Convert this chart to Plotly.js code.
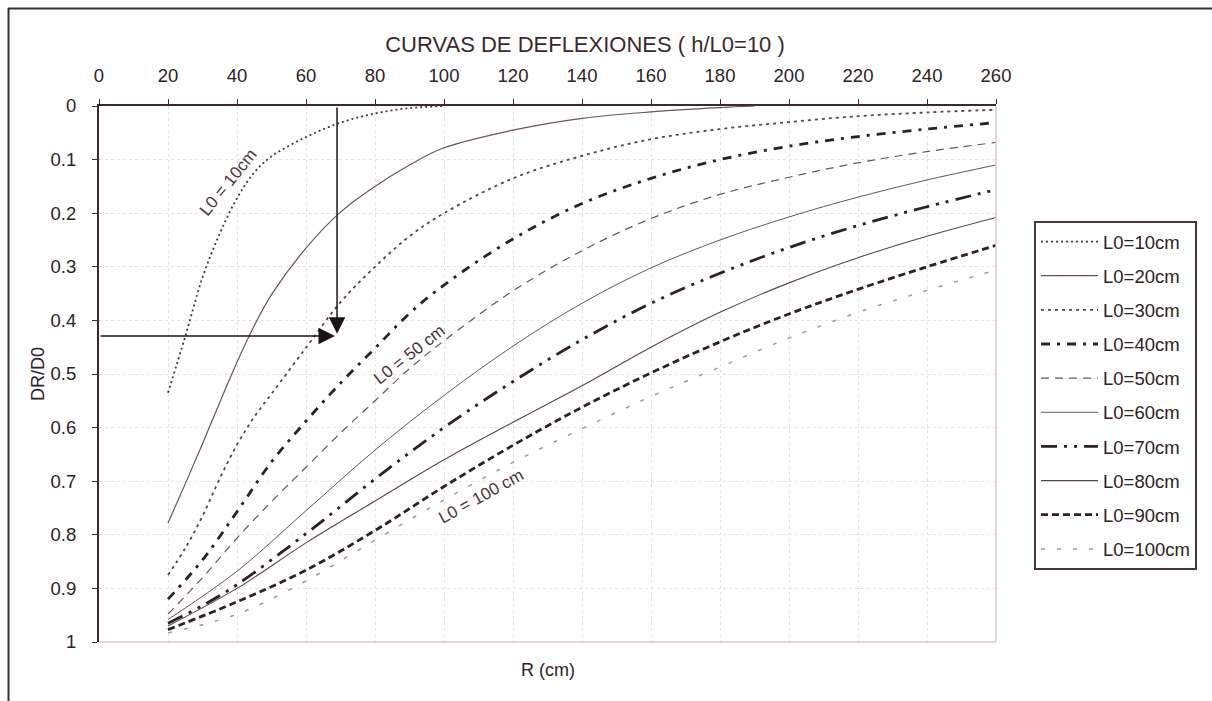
<!DOCTYPE html>
<html>
<head>
<meta charset="utf-8">
<script src="https://cdn.plot.ly/plotly-3.0.1.min.js"></script>
<style>
  html, body { margin: 0; padding: 0; background: #ffffff; }
  #chart { width: 1212px; height: 701px; }
</style>
</head>
<body>
<div id="chart"></div>
<script>
// ---- data ----
const seriesNames = ['L0=10cm','L0=20cm','L0=30cm','L0=40cm','L0=50cm','L0=60cm','L0=70cm','L0=80cm','L0=90cm','L0=100cm'];

const R_L10 = [20, 25, 30, 35, 40, 45, 50, 60, 70, 80, 90, 100];
const DR_L10 = [0.535, 0.43, 0.32, 0.238, 0.172, 0.124, 0.094, 0.058, 0.031, 0.014, 0.004, 0.0];

const R_L20 = [20, 25, 30, 35, 40, 45, 50, 60, 70, 80, 90, 100, 120, 140, 160, 180, 190];
const DR_L20 = [0.778, 0.705, 0.63, 0.553, 0.478, 0.41, 0.352, 0.265, 0.198, 0.15, 0.11, 0.078, 0.045, 0.023, 0.011, 0.003, 0.0];

const R_L30 = [20, 25, 30, 35, 40, 45, 50, 60, 70, 80, 90, 100, 120, 140, 160, 180, 200, 220, 240, 260];
const DR_L30 = [0.875, 0.825, 0.765, 0.695, 0.632, 0.58, 0.537, 0.451, 0.366, 0.3, 0.243, 0.2, 0.135, 0.093, 0.062, 0.043, 0.03, 0.019, 0.012, 0.007];

const R_L40 = [20, 30, 40, 50, 60, 70, 80, 90, 100, 120, 140, 160, 180, 200, 220, 240, 260];
const DR_L40 = [0.92, 0.847, 0.757, 0.664, 0.588, 0.517, 0.452, 0.387, 0.334, 0.248, 0.182, 0.135, 0.1, 0.075, 0.057, 0.043, 0.031];

const R_L50 = [20, 30, 40, 50, 60, 70, 80, 90, 100, 120, 140, 160, 180, 200, 220, 240, 260];
const DR_L50 = [0.948, 0.88, 0.806, 0.738, 0.674, 0.61, 0.55, 0.49, 0.438, 0.345, 0.27, 0.21, 0.165, 0.133, 0.106, 0.085, 0.068];

const R_L60 = [20, 40, 60, 80, 100, 120, 140, 160, 180, 200, 220, 240, 260];
const DR_L60 = [0.958, 0.868, 0.755, 0.642, 0.54, 0.448, 0.368, 0.302, 0.25, 0.207, 0.17, 0.138, 0.11];

const R_L70 = [20, 30, 40, 60, 80, 100, 120, 140, 160, 180, 200, 220, 240, 260];
const DR_L70 = [0.965, 0.932, 0.893, 0.798, 0.696, 0.6, 0.514, 0.436, 0.368, 0.312, 0.264, 0.223, 0.188, 0.156];

const R_L80 = [20, 40, 60, 80, 100, 120, 140, 160, 180, 200, 220, 240, 260];
const DR_L80 = [0.97, 0.9, 0.815, 0.737, 0.66, 0.59, 0.522, 0.45, 0.385, 0.33, 0.283, 0.243, 0.208];

const R_L90 = [20, 40, 60, 80, 100, 120, 140, 160, 180, 200, 220, 240, 260];
const DR_L90 = [0.977, 0.925, 0.866, 0.792, 0.71, 0.633, 0.562, 0.498, 0.44, 0.388, 0.342, 0.3, 0.26];

const R_L100 = [20, 40, 60, 80, 100, 120, 140, 160, 180, 200, 220, 240, 260];
const DR_L100 = [0.983, 0.948, 0.886, 0.81, 0.735, 0.665, 0.602, 0.542, 0.487, 0.433, 0.385, 0.344, 0.306];

const xTicks = [0, 20, 40, 60, 80, 100, 120, 140, 160, 180, 200, 220, 240, 260];
const yTicks = [0, 0.1, 0.2, 0.3, 0.4, 0.5, 0.6, 0.7, 0.8, 0.9, 1];
const yTickText = ['0', '0.1', '0.2', '0.3', '0.4', '0.5', '0.6', '0.7', '0.8', '0.9', '1'];

// reading arrows (R = 69 cm -> DR/D0 = 0.43)
const arrowR = [69];
const arrowDR = [0.425];

const curveLabels = ['L0 = 10cm', 'L0 = 50 cm', 'L0 = 100 cm'];
const curveLabelR = [37.4, 90, 110.7];
const curveLabelDR = [0.142, 0.463, 0.728];
const curveLabelAngle = [-51, -38, -29];

// ---- styles ----
const xs = [R_L10, R_L20, R_L30, R_L40, R_L50, R_L60, R_L70, R_L80, R_L90, R_L100];
const ys = [DR_L10, DR_L20, DR_L30, DR_L40, DR_L50, DR_L60, DR_L70, DR_L80, DR_L90, DR_L100];
const lineStyles = [
  {color: '#4a3539', width: 1.8, dash: '2px,3px'},
  {color: '#6a5357', width: 1.2, dash: 'solid'},
  {color: '#5a4448', width: 1.8, dash: '3px,4px'},
  {color: '#2e2024', width: 2.8, dash: '9px,7px,3px,7px'},
  {color: '#6a5357', width: 1.2, dash: '8px,6px'},
  {color: '#6a5357', width: 1.0, dash: 'solid'},
  {color: '#2e2024', width: 2.8, dash: '16px,7px,3px,7px,3px,7px'},
  {color: '#5a4448', width: 1.1, dash: 'solid'},
  {color: '#2e2024', width: 2.8, dash: '7px,4px'},
  {color: '#9a9a9a', width: 1.5, dash: '4px,12px'}
];

const FONT = 'Liberation Sans, Arial, Helvetica, sans-serif';
const TXT = '#2e2226';

const traces = seriesNames.map((n, i) => ({
  type: 'scatter',
  mode: 'lines',
  name: n,
  legendgroup: 'g' + i,
  x: xs[i],
  y: ys[i],
  line: Object.assign({shape: 'spline', smoothing: 1}, lineStyles[i]),
  hoverinfo: 'x+y+name'
}));

const annotations = [];
// horizontal arrow: from the axis to the curve
annotations.push({
  x: arrowR[0] - 0.6, y: arrowDR[0] + 0.004, xref: 'x', yref: 'y',
  ax: 0, ay: arrowDR[0] + 0.004, axref: 'x', ayref: 'y',
  showarrow: true, arrowhead: 2, arrowsize: 2.2, arrowwidth: 1.5, arrowcolor: '#1c1416', text: ''
});
// vertical arrow: from the top axis down to the curve
annotations.push({
  x: arrowR[0], y: arrowDR[0], xref: 'x', yref: 'y',
  ax: arrowR[0], ay: 0, axref: 'x', ayref: 'y',
  showarrow: true, arrowhead: 2, arrowsize: 2.2, arrowwidth: 1.5, arrowcolor: '#1c1416', text: ''
});
curveLabels.forEach((t, i) => annotations.push({
  x: curveLabelR[i], y: curveLabelDR[i], xref: 'x', yref: 'y',
  text: t, showarrow: false, textangle: curveLabelAngle[i],
  font: {family: FONT, size: 17, color: '#4a3539'}
}));
annotations.push({
  x: 0.5, y: -0.052, xref: 'paper', yref: 'paper', yanchor: 'middle',
  text: 'R (cm)', showarrow: false,
  font: {family: FONT, size: 18, color: TXT}
});

const L = 99, T = 106, W = 897, H = 536;
const px = v => (v - L) / W;
const py = v => (T + H - v) / H;

const shapes = [
  // light bottom and right edges of the plot area
  {type: 'line', xref: 'paper', yref: 'paper', x0: 0, x1: 1, y0: 0, y1: 0, line: {color: '#dcc9cf', width: 1.5}},
  {type: 'line', xref: 'paper', yref: 'paper', x0: 1, x1: 1, y0: 0, y1: 1, line: {color: '#dcc9cf', width: 1.5}},
  // outer chart frame (top and left)
  {type: 'line', xref: 'paper', yref: 'paper', x0: px(8), x1: px(1212), y0: py(8.5), y1: py(8.5), line: {color: '#3a2e33', width: 2}},
  {type: 'line', xref: 'paper', yref: 'paper', x0: px(8.5), x1: px(8.5), y0: py(8), y1: py(701), line: {color: '#3a2e33', width: 2}}
];

const layout = {
  width: 1212, height: 701,
  margin: {l: L, r: 1212 - L - W, t: T, b: 701 - T - H},
  paper_bgcolor: '#ffffff', plot_bgcolor: '#ffffff',
  font: {family: FONT, color: TXT},
  title: {
    text: 'CURVAS DE DEFLEXIONES ( h/L0=10 )',
    x: px(585), xref: 'paper', xanchor: 'center',
    y: 1 - 44 / 701, yref: 'container', yanchor: 'middle',
    font: {family: FONT, size: 22, color: '#3a2a2e'}
  },
  xaxis: {
    side: 'top', range: [0, 260], tickvals: xTicks, ticktext: xTicks.map(String),
    showline: true, linecolor: '#3a2a2e', linewidth: 2,
    ticks: 'outside', ticklen: 5, tickcolor: '#3a2a2e', tickwidth: 1,
    ticklabelstandoff: 10,
    showgrid: true, gridcolor: '#e2e2e2', griddash: 'dot', gridwidth: 1,
    zeroline: false,
    tickfont: {family: FONT, size: 18.5, color: TXT},
    fixedrange: true
  },
  yaxis: {
    range: [1, 0], tickvals: yTicks, ticktext: yTickText,
    showline: true, linecolor: '#3a2a2e', linewidth: 2,
    ticks: 'outside', ticklen: 5, tickcolor: '#3a2a2e', tickwidth: 1,
    ticklabelstandoff: 12,
    showgrid: true, gridcolor: '#e2e2e2', griddash: 'dot', gridwidth: 1,
    zeroline: false,
    tickfont: {family: FONT, size: 18.5, color: TXT},
    title: {text: 'DR/D0', standoff: 1, font: {family: FONT, size: 18, color: TXT}},
    fixedrange: true
  },
  showlegend: true,
  legend: {
    x: px(1034), xanchor: 'left', y: py(221), yanchor: 'top',
    bordercolor: '#4a3539', borderwidth: 2, bgcolor: '#ffffff',
    font: {family: FONT, size: 18.5, color: TXT},
    itemwidth: 57, tracegroupgap: 7.1, traceorder: 'grouped',
    itemclick: false, itemdoubleclick: false
  },
  annotations: annotations,
  shapes: shapes
};

Plotly.newPlot('chart', traces, layout, {displayModeBar: false, staticPlot: true});
</script>
</body>
</html>
